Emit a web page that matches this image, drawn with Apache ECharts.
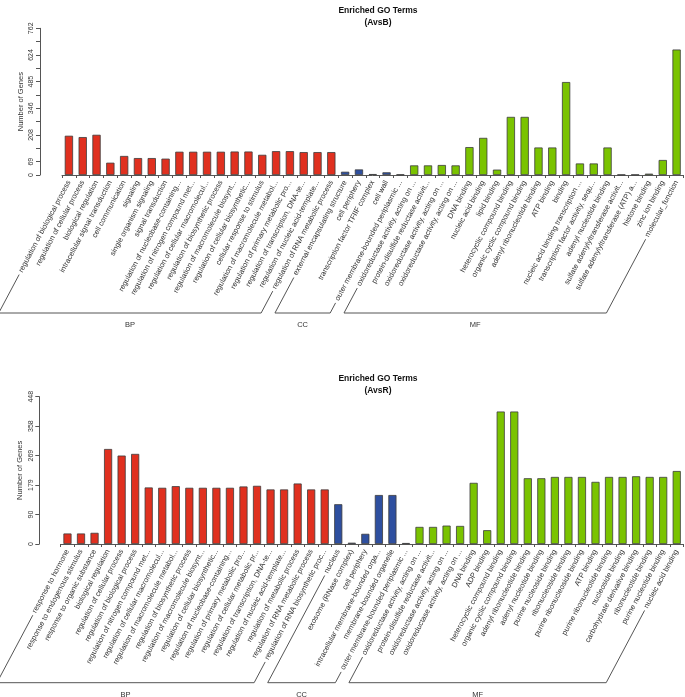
<!DOCTYPE html>
<html>
<head>
<meta charset="utf-8">
<script src="https://cdn.jsdelivr.net/npm/echarts@6/dist/echarts.min.js"></script>
<style>
  html, body { margin: 0; padding: 0; background: #fff; }
  #main { width: 685px; height: 697px; }
</style>
</head>
<body>
<div id="main"></div>
<script>
// group order and colours
const groupNames = ['BP', 'CC', 'MF'];
const groupColors = ['#e0301f', '#2e4f9f', '#7ac300'];

// AvsB
const topCategories = [
  'regulation of biological process', 'regulation of cellular process', 'biological regulation',
  'intracellular signal transduction', 'cell communication', 'signaling', 'single organism signaling',
  'signal transduction', 'regulation of nucleobase-containing...', 'regulation of nitrogen compound met...',
  'regulation of cellular macromolecul...', 'regulation of biosynthetic process',
  'regulation of macromolecule biosynt...', 'regulation of cellular biosynthetic...',
  'cellular response to stimulus', 'regulation of macromolecule metabol...',
  'regulation of primary metabolic pro...', 'regulation of transcription, DNA-te...',
  'regulation of nucleic acid-template...', 'regulation of RNA metabolic process',
  'external encapsulating structure', 'cell periphery', 'transcription factor TFIIF complex',
  'cell wall', 'outer membrane-bounded periplasmic ...',
  'oxidoreductase activity, acting on ...', 'protein-disulfide reductase activit...',
  'oxidoreductase activity, acting on ...', 'oxidoreductase activity, acting on ...',
  'DNA binding', 'nucleic acid binding', 'lipid binding', 'heterocyclic compound binding',
  'organic cyclic compound binding', 'adenyl ribonucleotide binding', 'ATP binding', 'binding',
  'nucleic acid binding transcription ...', 'transcription factor activity, sequ...',
  'adenyl nucleotide binding', 'sulfate adenylyltransferase activit...',
  'sulfate adenylyltransferase (ATP) a...', 'histone binding', 'zinc ion binding', 'molecular_function'
];
const topValues = [
  204, 197, 209, 64, 99, 88, 88, 85, 121, 121, 121, 121, 122, 122, 105, 124, 124, 119, 119, 119,
  17, 29, 5, 14, 3,
  50, 50, 52, 50, 145, 193, 28, 302, 302, 143, 143, 483, 60, 60, 143, 2, 2, 7, 78, 652
];
const topGroupSizes = [20, 5, 20];
const topTickLabels = ['0', '69', '', '208', '', '346', '', '485', '', '624', '', '762'];
const topMax = 762.2;

// AvsR
const botCategories = [
  'response to hormone', 'response to endogenous stimulus', 'response to organic substance',
  'biological regulation', 'regulation of cellular process', 'regulation of biological process',
  'regulation of nitrogen compound met...', 'regulation of cellular macromolecul...',
  'regulation of macromolecule metabol...', 'regulation of biosynthetic process',
  'regulation of macromolecule biosynt...', 'regulation of cellular biosynthetic...',
  'regulation of nucleobase-containing...', 'regulation of primary metabolic pro...',
  'regulation of cellular metabolic pr...', 'regulation of transcription, DNA-te...',
  'regulation of nucleic acid-template...', 'regulation of metabolic process',
  'regulation of RNA metabolic process', 'regulation of RNA biosynthetic proc...',
  'nucleus', 'exosome (RNase complex)', 'cell periphery', 'intracellular membrane-bounded orga...',
  'membrane-bounded organelle', 'outer membrane-bounded periplasmic ...',
  'oxidoreductase activity, acting on ...', 'protein-disulfide reductase activit...',
  'oxidoreductase activity, acting on ...', 'oxidoreductase activity, acting on ...',
  'DNA binding', 'ADP binding', 'heterocyclic compound binding', 'organic cyclic compound binding',
  'adenyl ribonucleotide binding', 'adenyl nucleotide binding', 'purine nucleoside binding',
  'ribonucleoside binding', 'purine ribonucleoside binding', 'ATP binding',
  'purine ribonucleotide binding', 'nucleoside binding', 'carbohydrate derivative binding',
  'ribonucleotide binding', 'purine nucleotide binding', 'nucleic acid binding'
];
const botValues = [
  32, 32, 34, 289, 269, 274, 172, 171, 176, 171, 171, 171, 171, 175, 177, 166, 166, 184, 166, 166,
  121, 4, 31, 149, 149, 3,
  52, 52, 56, 55, 186, 42, 403, 403, 200, 200, 204, 204, 204, 189, 204, 204, 206, 204, 204, 222
];
const botGroupSizes = [20, 6, 20];
const botTickLabels = ['0', '90', '179', '269', '358', '448'];
const botMax = 448;

const FONT = 'Liberation Sans';
const LABEL_SIZE = 7.5;
const LABEL_ROT = 62;
const LABEL_MARGIN = 6;

// which group each bar belongs to
function groupIndex(sizes) {
  const out = [];
  sizes.forEach((n, g) => { for (let i = 0; i < n; i++) out.push(g); });
  return out;
}
const topGroupIdx = groupIndex(topGroupSizes);
const botGroupIdx = groupIndex(botGroupSizes);

function barData(values, gIdx) {
  return values.map((v, i) => ({ value: v, itemStyle: { color: groupColors[gIdx[i]] } }));
}

function xAxisCfg(gridIndex, cats) {
  return {
    type: 'category', gridIndex: gridIndex, data: cats,
    axisLine: { show: true, lineStyle: { color: '#555', width: 1 } },
    axisTick: { show: true, length: 3, lineStyle: { color: '#555' } },
    axisLabel: {
      interval: 0, rotate: LABEL_ROT, margin: LABEL_MARGIN,
      fontSize: LABEL_SIZE, fontFamily: FONT, color: '#333'
    }
  };
}

function yAxisCfg(gridIndex, max, ticks, offset) {
  return {
    type: 'value', gridIndex: gridIndex, min: 0, max: max,
    interval: max / (ticks.length - 1), offset: offset,
    name: 'Number of Genes', nameLocation: 'middle', nameGap: 15, nameRotate: 90,
    nameMoveOverlap: false,
    nameTextStyle: { fontSize: 7.5, fontFamily: FONT, color: '#333' },
    axisLine: { show: true, lineStyle: { color: '#555', width: 1 } },
    axisTick: { show: true, length: 4, lineStyle: { color: '#555' } },
    splitLine: { show: false },
    axisLabel: {
      rotate: 90, margin: 5, fontSize: 7, fontFamily: FONT, color: '#333',
      showMinLabel: true, showMaxLabel: true,
      formatter: function (v) { return ticks[Math.round(v / (max / (ticks.length - 1)))] || ''; }
    }
  };
}

const chart = echarts.init(document.getElementById('main'), null, { renderer: 'canvas' });

const option = {
  animation: false,
  backgroundColor: '#fff',
  title: [
    { text: 'Enriched GO Terms\n(AvsB)', left: 373, top: 0, textAlign: 'center',
      textStyle: { fontSize: 8.5, fontWeight: 'bold', fontFamily: FONT, color: '#111', lineHeight: 11.5 } },
    { text: 'Enriched GO Terms\n(AvsR)', left: 373, top: 368, textAlign: 'center',
      textStyle: { fontSize: 8.5, fontWeight: 'bold', fontFamily: FONT, color: '#111', lineHeight: 11.5 } }
  ],
  grid: [
    { left: 62, right: 1.5, top: 28.3, height: 146.7, containLabel: false, outerBoundsMode: 'none' },
    { left: 60.7, right: 1.5, top: 396.7, height: 147.3, containLabel: false, outerBoundsMode: 'none' }
  ],
  xAxis: [xAxisCfg(0, topCategories), xAxisCfg(1, botCategories)],
  yAxis: [yAxisCfg(0, topMax, topTickLabels, 22), yAxisCfg(1, botMax, botTickLabels, 21.4)],
  series: [
    { type: 'bar', xAxisIndex: 0, yAxisIndex: 0, barWidth: '60%',
      itemStyle: { borderColor: '#3c3c3c', borderWidth: 0.8 },
      data: barData(topValues, topGroupIdx) },
    { type: 'bar', xAxisIndex: 1, yAxisIndex: 1, barWidth: '60%',
      itemStyle: { borderColor: '#3c3c3c', borderWidth: 0.8 },
      data: barData(botValues, botGroupIdx) }
  ]
};
chart.setOption(option);

// group brackets under the rotated labels (BP / CC / MF)
const measureCtx = document.createElement('canvas').getContext('2d');
measureCtx.font = LABEL_SIZE + 'px "' + FONT + '"';

function brackets(axisIdx, cats, sizes, yBase) {
  const els = [];
  const rad = LABEL_ROT * Math.PI / 180;
  const cx = Math.cos(rad), sy = Math.sin(rad);
  const y0 = chart.convertToPixel({ yAxisIndex: axisIdx }, 0);
  const ay = y0 + LABEL_MARGIN;
  function ends(i) {
    const ax = chart.convertToPixel({ xAxisIndex: axisIdx }, i);
    const w = measureCtx.measureText(cats[i]).width + 3;
    const start = [ax - w * cx, ay + w * sy];
    const t = (yBase - ay) / sy;
    const base = [ax - t * cx, yBase];
    return { start: start, base: base };
  }
  let first = 0;
  sizes.forEach((n, g) => {
    const a = ends(first), b = ends(first + n - 1);
    els.push({
      type: 'polyline', silent: true,
      shape: { points: [a.start, a.base, b.base, b.start] },
      style: { stroke: '#555', lineWidth: 1, fill: null }
    });
    els.push({
      type: 'text', silent: true,
      x: (a.base[0] + b.base[0]) / 2, y: yBase + 8,
      style: { text: groupNames[g], fontSize: 7.5, fontFamily: FONT, fill: '#333',
               align: 'center', verticalAlign: 'top' }
    });
    first += n;
  });
  return els;
}

chart.setOption({
  graphic: brackets(0, topCategories, topGroupSizes, 313)
    .concat(brackets(1, botCategories, botGroupSizes, 682.7))
});
</script>
</body>
</html>
